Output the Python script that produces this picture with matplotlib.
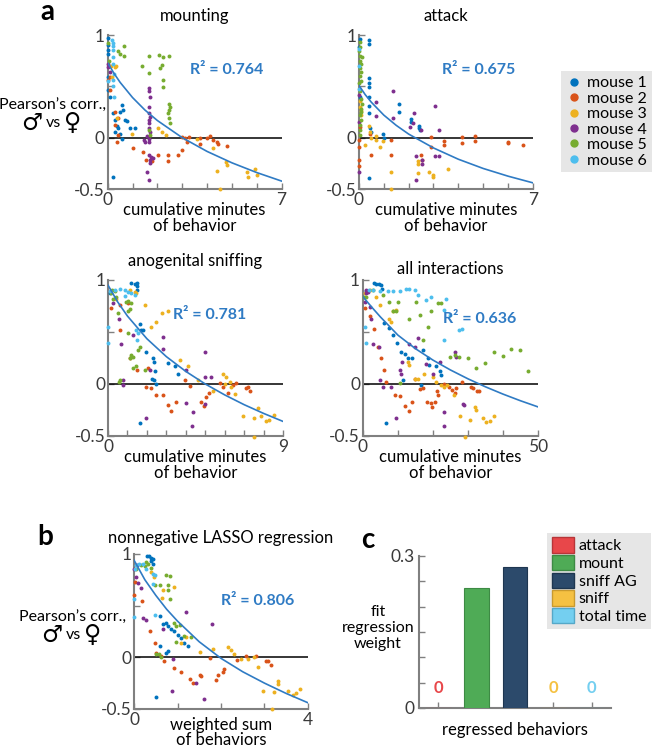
import numpy as np
import matplotlib
matplotlib.use('Agg')
import matplotlib.pyplot as plt
from matplotlib.lines import Line2D
from matplotlib.patches import Patch

plt.rcParams['font.family'] = ['Lato', 'DejaVu Sans']

mouse_colors = ['#0072BD', '#D95319', '#EDB120', '#7E2F8E', '#77AC30', '#4DBEEE']
mouse_labels = ['mouse 1', 'mouse 2', 'mouse 3', 'mouse 4', 'mouse 5', 'mouse 6']
fit_color = '#2f7bc4'
axis_gray = '#808080'
text_gray = '#3a3a3a'

# ---- mounting: (x, y) per mouse ----
mount_pts = [
    [(0, 0.97), (0, 0.9), (0, 0.85), (0, 0.82), (0.02, 0.59), (0.03, 0.46), (0.09, 0.40), (0.23, 0.24),
     (0.56, 0.32), (0.5, 0.25), (0.6, 0.27), (0.29, 0.17), (0.43, 0.09), (0.7, 0.17), (0.76, 0.16),
     (0.9, 0.09), (1.1, 0.09), (0.5, 0.04), (0.56, -0.01), (0.2, -0.38), (0.37, 0.11), (0.29, 0.06)],
    [(0.09, 0.46), (0.29, 0.25), (0.43, 0.19), (0.29, 0.12), (0.43, 0.03), (0.39, -0.04), (1.03, -0.1),
     (1.43, -0.14), (1.53, -0.22), (1.77, -0.23), (2.04, -0.17), (2.44, -0.17), (2.44, -0.23), (2.84, -0.17),
     (2.98, -0.12), (3.11, 0.0), (3.18, -0.04), (3.71, -0.06), (3.71, 0.0), (3.98, 0.0), (4.12, 0.02),
     (4.38, -0.04), (4.45, -0.06), (4.79, -0.08), (2.98, 0.01), (3.28, 0.01), (0.09, 0.59), (0.0, 0.56),
     (4.25, -0.02)],
    [(0.29, 0.69), (0.16, 0.59), (0.39, 0.19), (0.97, 0.04), (2.01, 0.09), (2.17, 0.06), (2.33, 0.03),
     (3.58, -0.01), (4.25, -0.1), (4.76, -0.24), (4.79, -0.27), (4.38, -0.32), (4.52, -0.5), (5.59, -0.33),
     (5.66, -0.38), (5.92, -0.31), (5.99, -0.36), (0.35, 0.7), (0.15, 0.7)],
    [(1.68, 0.48), (1.66, 0.45), (1.7, 0.4), (1.68, 0.3), (1.68, 0.24), (1.7, 0.2), (1.68, 0.17),
     (1.66, 0.14), (1.68, 0.09), (1.7, 0.06), (1.66, -0.01), (1.68, -0.04), (1.68, -0.17), (1.7, -0.22),
     (1.72, -0.25), (1.6, -0.33), (1.68, -0.41), (0, 0.72), (0.03, 0.69), (0.09, 0.64), (1.46, -0.02),
     (1.5, -0.04), (1.57, 0.02), (1.76, -0.19), (1.82, -0.2)],
    [(0.43, 0.84), (0.66, 0.89), (0.66, 0.8), (0.5, 0.82), (1.37, 0.7), (1.68, 0.8), (1.68, 0.63),
     (2.08, 0.81), (2.24, 0.79), (2.47, 0.8), (2.17, 0.71), (2.1, 0.68), (2.21, 0.56), (2.21, 0.49),
     (2.48, 0.33), (2.51, 0.3), (2.48, 0.27), (2.44, 0.24), (2.48, 0.19), (2.51, 0.14), (1.7, 0.03),
     (1.68, 0.07), (0.03, 0.92), (0.05, 0.75)],
    [(0.2, 0.92), (0.22, 0.89), (0.2, 0.85), (0.23, 0.79), (0.22, 0.72), (0.25, 0.62), (0.2, 0.56),
     (0.23, 0.5), (0.25, 0.4), (0.18, 0.95), (0.0, 0.55)],
]

# ---- attack ----
attack_pts = [
    [(0.05, 0.96), (0.4, 0.95), (0.4, 0.91), (0.4, 0.58), (0.4, 0.53), (0.4, 0.49), (0.4, 0.4), (0.4, 0.31),
     (0.4, 0.24), (0.43, 0.09), (0.5, 0.06), (0.97, 0.04), (0.99, 0.0), (1.61, 0.33), (1.61, 0.25),
     (2.08, 0.18), (2.08, 0.15), (2.41, 0.11), (2.41, 0.09), (2.44, 0.07), (0.4, -0.39), (0.05, 0.4),
     (0.02, 0.88)],
    [(0, -0.22), (0, -0.28), (0, -0.09), (0, -0.02), (0.46, 0.04), (0.5, -0.17), (1.27, -0.02), (1.27, -0.17),
     (2.51, -0.17), (2.55, -0.22), (2.91, 0.01), (2.91, -0.09), (3.44, -0.03), (3.44, -0.07), (4.16, 0.01),
     (4.16, -0.05), (4.69, 0.02), (4.69, -0.03), (5.99, -0.04), (5.99, -0.05), (6.6, -0.07), (0.05, 0.1)],
    [(0.05, 0.36), (0.09, 0.22), (0.4, 0.11), (0.43, 0.06), (0.23, -0.07), (0.5, 0.0), (0.67, 0.02),
     (0.67, -0.02), (0.86, -0.09), (0.97, -0.03), (1.27, -0.33), (1.27, -0.5), (2.37, -0.23), (2.37, -0.26),
     (2.37, -0.34), (2.8, -0.33), (2.98, -0.36), (2.98, -0.38), (3.58, -0.31), (0.05, 0.3), (0.08, 0.26)],
    [(1.37, 0.45), (0.67, 0.35), (0.67, 0.21), (1.37, 0.19), (2.2, 0.24), (2.17, 0.14), (2.04, 0.1),
     (2.51, 0.07), (3.08, 0.31), (3.22, 0.07), (2.31, -0.18), (2.55, -0.22), (2.55, -0.26), (2.31, -0.41),
     (3.08, -0.18), (3.22, -0.18), (0, -0.33), (0.02, 0.15), (0, 0.42)],
    [(0.03, 0.93), (0.05, 0.88), (0.02, 0.84), (0.06, 0.8), (0.04, 0.75), (0.1, 0.72), (0.03, 0.68),
     (0.08, 0.64), (0.05, 0.6), (0.02, 0.53), (0.06, 0.45), (0.1, 0.38), (0.12, 0.33), (0.08, 0.28),
     (0.05, 0.22), (0.09, 0.17), (0.04, 0.12), (0.06, 0.07), (0.03, 0.03), (0.12, 0.79), (0.1, 0.55),
     (0.1, 0.25)],
    [(0.0, 0.86), (0.01, 0.7), (0.02, 0.47)],
]

# ---- anogenital sniffing ----
anogen_pts = [
    [(1.2, 0.97), (1.37, 0.96), (1.49, 0.97), (1.49, 0.94), (1.49, 0.9), (1.63, 0.58), (1.72, 0.52),
     (1.8, 0.52), (1.97, 0.31), (2.32, 0.25), (2.35, 0.21), (2.4, 0.12), (2.28, 0.05), (2.35, 0.04),
     (2.49, 0.0), (3.09, 0.2), (3.43, 0.17), (3.6, 0.1), (1.63, -0.38), (0.09, 0.87)],
    [(0.14, 0.73), (0.6, 0.76), (0.6, 0.52), (1.11, 0.25), (1.49, 0.13), (2.06, 0.15), (1.94, -0.03),
     (2.23, -0.04), (2.49, -0.11), (2.83, -0.11), (3.09, -0.2), (3.26, -0.26), (3.52, -0.17), (3.95, 0.04),
     (4.2, -0.02), (4.8, -0.17), (4.92, -0.21), (5.06, -0.13), (5.2, -0.09), (5.75, 0.01), (5.92, -0.03),
     (6.43, -0.01), (6.6, 0.01), (7.12, -0.04), (7.2, -0.03), (7.29, -0.07), (6.17, -0.09), (1.03, 0.78)],
    [(1.11, 0.9), (1.37, 0.88), (1.46, 0.87), (1.89, 0.76), (2.8, 0.68), (3.09, 0.7), (2.49, 0.6),
     (2.23, 0.55), (3.69, 0.23), (4.12, 0.17), (4.63, 0.04), (5.92, 0.1), (6.09, 0.07), (6.26, 0.02),
     (6.35, -0.03), (6.52, -0.1), (5.4, -0.07), (7.72, -0.23), (6.95, -0.31), (7.5, -0.33), (7.89, -0.31),
     (8.15, -0.36), (8.28, -0.35), (8.52, -0.3), (7.5, -0.51), (0.43, 0.82), (6.0, 0.0)],
    [(0.57, 0.62), (0.69, 0.38), (1.29, 0.47), (2.83, 0.45), (2.83, 0.34), (2.14, 0.13), (4.03, 0.13),
     (4.97, 0.31), (4.97, 0.07), (5.32, 0.07), (4.03, -0.18), (4.37, -0.27), (4.34, -0.4), (4.97, -0.19),
     (0.77, 0.04), (0.77, -0.01), (1.94, -0.33), (0.26, 0.78)],
    [(0.17, 0.87), (0.34, 0.89), (0.26, 0.82), (0.43, 0.84), (0.94, 0.79), (1.03, 0.8), (1.2, 0.78),
     (0.51, 0.68), (1.03, 0.7), (1.11, 0.72), (1.03, 0.49), (1.63, 0.36), (1.54, 0.33), (1.29, 0.26),
     (1.2, 0.28), (1.11, 0.25), (1.29, 0.15), (1.89, 0.13), (0.6, 0.04), (0.57, 0.02), (1.46, 0.17),
     (0.2, 0.9)],
    [(0.09, 0.89), (0.34, 0.9), (0.6, 0.91), (0.86, 0.9), (1.03, 0.88), (1.2, 0.87), (1.37, 0.86),
     (0.86, 0.85), (1.46, 0.52), (1.54, 0.49), (1.49, 0.42), (0.0, 0.55), (0.0, 0.39)],
]

# ---- all interactions ----
allint_pts = [
    [(3.3, 0.97), (3.8, 0.96), (4.6, 0.96), (5.2, 0.95), (5.5, 0.91), (6, 0.59), (7.4, 0.54), (8.6, 0.47),
     (9.8, 0.39), (11, 0.31), (11.9, 0.29), (12.9, 0.25), (14.1, 0.25), (17.1, 0.33), (18.6, 0.25),
     (19, 0.18), (21, 0.17), (21.9, 0.12), (22.4, 0.09), (11.6, 0.04), (16.7, -0.01), (6.7, -0.38),
     (0.8, 0.89)],
    [(0.5, 0.73), (1.9, 0.65), (3.3, 0.53), (4.3, 0.36), (5.2, 0.25), (6, 0.13), (6.7, 0.02), (9.3, -0.11),
     (10.5, -0.12), (11.9, -0.21), (13.1, -0.26), (14.1, -0.17), (14.8, 0.05), (16.2, -0.05), (17.3, -0.04),
     (18.3, -0.17), (19.5, -0.18), (20.5, -0.17), (21.1, -0.07), (21.4, -0.11), (23.3, 0.0), (24.6, -0.03),
     (25.5, -0.06), (26.2, -0.09), (26.7, -0.04), (28.4, 0.02), (31, -0.03), (31.6, -0.04), (32.6, -0.07),
     (33.3, -0.07), (19.8, -0.22)],
    [(0.5, 0.87), (3.8, 0.84), (4.8, 0.76), (7.4, 0.62), (8.1, 0.6), (9.5, 0.71), (8.6, 0.7), (12.9, 0.21),
     (13.1, 0.18), (15, 0.05), (15.7, 0.05), (17.6, 0.1), (20, 0.07), (21, 0.02), (22.4, -0.01), (23.3, -0.03),
     (24, -0.01), (25.9, -0.11), (27.8, -0.31), (29.3, -0.51), (30.5, -0.35), (31.9, -0.22), (32.2, -0.25),
     (34.3, -0.33), (35.2, -0.37), (36.4, -0.36), (37.4, -0.31), (2.0, 0.9)],
    [(0.8, 0.9), (0.5, 0.79), (1.4, 0.88), (1.9, 0.74), (2.4, 0.62), (2.9, 0.38), (4.6, 0.36), (4.8, 0.04),
     (5.7, -0.03), (8.1, -0.03), (9.5, -0.33), (10.5, 0.13), (11, 0.1), (11.2, 0.21), (13.3, 0.38),
     (14.8, 0.36), (15.7, 0.44), (17.9, 0.19), (20, 0.1), (21.9, 0.21), (23.3, -0.27), (23.3, -0.4),
     (26.2, 0.31), (26.5, 0.26), (28.6, -0.19), (28.8, -0.2), (1.0, 0.87)],
    [(1, 0.84), (2.9, 0.9), (5.7, 0.86), (7.6, 0.79), (10, 0.79), (8.6, 0.7), (9.5, 0.7), (13.1, 0.62),
     (15.2, 0.79), (16.2, 0.66), (17.3, 0.42), (18.6, 0.55), (19.5, 0.7), (21.4, 0.78), (22.4, 0.78),
     (24.8, 0.26), (26.2, 0.28), (27.6, 0.26), (30, 0.25), (32.4, 0.15), (34.8, 0.2), (37.6, 0.31),
     (40, 0.27), (42.4, 0.34), (44.8, 0.33), (47.3, 0.12), (10.5, 0.01), (0.3, 0.84)],
    [(0.5, 0.55), (0.8, 0.39), (1.7, 0.9), (2.9, 0.9), (4.8, 0.89), (7.1, 0.89), (8.6, 0.89), (10.5, 0.89),
     (12.4, 0.91), (13.3, 0.91), (14.8, 0.9), (15.7, 0.86), (18.1, 0.81), (19.5, 0.84), (23.8, 0.82),
     (23.3, 0.71), (24.8, 0.66), (27.6, 0.52), (28.4, 0.53), (23.3, 0.42)],
]

# ---- nonnegative LASSO regression ----
lasso_pts = [
    [(0.31, 0.98), (0.34, 0.98), (0.4, 0.96), (0.44, 0.95), (0.4, 0.93), (0.44, 0.9), (0.59, 0.4),
     (0.67, 0.32), (0.74, 0.33), (0.78, 0.3), (0.86, 0.27), (0.93, 0.25), (1.09, 0.19), (1.16, 0.14),
     (1.24, 0.11), (0.78, 0.06), (0.74, 0.04), (0.51, -0.38), (0.59, 0.11), (1.0, 0.22)],
    [(0.02, 0.73), (0.19, 0.54), (0.36, 0.25), (0.48, 0.14), (0.51, 0.04), (0.63, 0.01), (0.7, -0.04),
     (0.93, -0.1), (1.09, -0.14), (1.28, -0.21), (1.36, -0.25), (1.51, -0.17), (1.55, -0.18), (1.74, -0.01),
     (1.89, -0.22), (1.93, -0.17), (2.05, -0.14), (2.08, -0.11), (2.37, -0.03), (2.58, 0.01), (2.81, 0.01),
     (3.04, -0.04), (3.08, -0.04), (3.16, -0.07), (0.0, 0.6)],
    [(0.4, 0.83), (0.45, 0.78), (0.67, 0.65), (0.93, 0.68), (0.65, 0.57), (1.09, 0.14), (1.51, 0.05),
     (1.82, 0.08), (2.16, 0.1), (2.24, 0.07), (2.31, 0.03), (2.47, -0.02), (2.62, -0.02), (2.77, 0.0),
     (2.85, -0.09), (2.97, -0.33), (3.23, -0.34), (3.31, -0.23), (3.31, -0.26), (3.54, -0.33), (3.66, -0.36),
     (3.73, -0.35), (3.81, -0.31), (3.18, -0.5), (1.2, 0.2)],
    [(0.07, 0.89), (0.05, 0.78), (0.17, 0.67), (0.21, 0.38), (0.27, 0.36), (0.67, 0.27), (0.88, -0.33),
     (1.2, 0.44), (1.43, -0.25), (1.62, -0.4), (1.8, 0.32), (0.9, -0.02), (0.1, 0.72), (0.0, 0.85)],
    [(0.05, 0.85), (0.17, 0.89), (0.28, 0.92), (0.32, 0.9), (0.4, 0.86), (0.48, 0.7), (0.59, 0.7),
     (0.74, 0.8), (0.82, 0.79), (0.78, 0.7), (0.78, 0.65), (0.82, 0.56), (0.93, 0.33), (0.97, 0.3),
     (1.05, 0.31), (1.16, 0.21), (1.32, 0.2), (0.97, 0.15), (0.51, 0.03), (0.57, 0.03), (0.61, 0.0),
     (0.25, 0.88)],
    [(0.02, 0.85), (0.05, 0.89), (0.11, 0.9), (0.21, 0.9), (0.28, 0.85), (0.44, 0.81), (0.48, 0.8),
     (0.0, 0.56), (0.0, 0.39), (0.44, 0.71), (0.48, 0.41)],
]

# ---- fitted curves ----
mount_fit_x = [0, 0.25, 0.5, 1, 1.5, 2, 3, 4, 5, 6, 7]
mount_fit_y = [0.73, 0.628, 0.539, 0.391, 0.269, 0.167, 0.0, -0.134, -0.245, -0.34, -0.423]
attack_fit_x = [0, 0.25, 0.5, 1, 1.5, 2, 3, 4, 5, 6, 7]
attack_fit_y = [0.51, 0.42, 0.345, 0.22, 0.12, 0.035, -0.1, -0.21, -0.3, -0.375, -0.44]
anogen_fit_x = [0, 0.5, 1, 2, 3, 4, 5, 6, 7, 8, 9]
anogen_fit_y = [0.95, 0.788, 0.653, 0.435, 0.263, 0.121, 0.0, -0.105, -0.199, -0.283, -0.36]
allint_fit_x = [0, 2.5, 5, 10, 15, 20, 25, 30, 35, 40, 45, 50]
allint_fit_y = [0.84, 0.74, 0.645, 0.47, 0.34, 0.23, 0.135, 0.05, -0.027, -0.097, -0.161, -0.22]
lasso_fit_x = [0, 0.25, 0.5, 0.75, 1, 1.5, 2, 2.5, 3, 3.5, 4]
lasso_fit_y = [0.94, 0.75, 0.6, 0.465, 0.35, 0.15, -0.01, -0.14, -0.25, -0.35, -0.44]

r2_values = ['0.764', '0.675', '0.781', '0.636', '0.806']

# ---- panel c ----
behaviors = ['attack', 'mount', 'sniff AG', 'sniff', 'total time']
weights = [0, 0.236, 0.279, 0, 0]
bar_colors = ['#e8474a', '#4fab56', '#2c4a6b', '#f5c142', '#74cff0']
bar_edges = ['#b83538', '#3d8a44', '#1e3650', '#c99a2e', '#55a8c8']

LAB = 12.5


def scatter_panel(ax, pts, fit_x, fit_y, xmax, minor, r2, r2_xy, title, title_pad=6):
    ax.axhline(0, color='black', lw=1.1, zorder=2)
    for i in range(6):
        xs = [p[0] for p in pts[i]]
        ys = [p[1] for p in pts[i]]
        ax.scatter(xs, ys, s=8, color=mouse_colors[i], lw=0, clip_on=False, zorder=3)
    ax.plot(fit_x, fit_y, color=fit_color, lw=1.2, zorder=4)
    ax.set_xlim(0, xmax)
    ax.set_ylim(-0.5, 1)
    for s in ['top', 'right']:
        ax.spines[s].set_visible(False)
    for s in ['left', 'bottom']:
        ax.spines[s].set_color(axis_gray)
        ax.spines[s].set_linewidth(1.5)
    ax.set_yticks([-0.5, 0, 0.5, 1])
    ax.set_yticklabels(['-0.5', '0', '', '1'])
    ax.set_xticks([0, xmax])
    ax.set_xticklabels(['0', str(xmax)])
    ax.set_xticks(minor, minor=True)
    ax.tick_params(which='both', direction='in', length=4, width=1, color=axis_gray,
                   labelsize=LAB, labelcolor=text_gray, pad=2)
    ax.text(r2_xy[0], r2_xy[1], 'R\u00b2 = ' + r2, color=fit_color, fontsize=11.5,
            fontweight='bold', ha='center', va='center')
    ax.set_title(title, fontsize=12, pad=title_pad)


fig = plt.figure(figsize=(6.55, 7.5), dpi=100)

ax1 = fig.add_axes([0.1644, 0.748, 0.2656, 0.2053])
scatter_panel(ax1, mount_pts, mount_fit_x, mount_fit_y, 7, [1, 2, 3, 4, 5, 6],
              r2_values[0], (4.8, 0.66), 'mounting', 10)
ax1.set_xlabel('cumulative minutes\nof behavior', fontsize=12, labelpad=-4, linespacing=0.95)

ax2 = fig.add_axes([0.548, 0.748, 0.2656, 0.2053])
scatter_panel(ax2, attack_pts, attack_fit_x, attack_fit_y, 7, [1, 2, 3, 4, 5, 6],
              r2_values[1], (4.83, 0.66), 'attack', 10)
ax2.set_xlabel('cumulative minutes\nof behavior', fontsize=12, labelpad=-4, linespacing=0.95)

ax3 = fig.add_axes([0.1649, 0.4187, 0.2672, 0.208])
scatter_panel(ax3, anogen_pts, anogen_fit_x, anogen_fit_y, 9, [1, 2, 3, 4, 5, 6, 7, 8],
              r2_values[2], (5.25, 0.66), 'anogenital sniffing', 10)
ax3.set_xlabel('cumulative minutes\nof behavior', fontsize=12, labelpad=-4, linespacing=0.95)

ax4 = fig.add_axes([0.554, 0.4187, 0.2672, 0.208])
scatter_panel(ax4, allint_pts, allint_fit_x, allint_fit_y, 50, [10, 20, 30, 40],
              r2_values[3], (33.4, 0.62), 'all interactions', 4)
ax4.set_xlabel('cumulative minutes\nof behavior', fontsize=12, labelpad=-4, linespacing=0.95)

ax5 = fig.add_axes([0.2046, 0.0547, 0.2656, 0.2067])
scatter_panel(ax5, lasso_pts, lasso_fit_x, lasso_fit_y, 4, [1, 2, 3],
              r2_values[4], (2.85, 0.54), 'nonnegative LASSO regression', 8)
ax5.set_xlabel('weighted sum\nof behaviors', fontsize=12, labelpad=-8, linespacing=0.95)

# y labels with sex symbols
for (cx, cy) in [(53, 106), (73, 618)]:
    fig.text(cx / 655, 1 - cy / 750, "Pearson\u2019s corr.,", fontsize=11.5, ha='center', va='center')
    fig.text((cx - 21) / 655, 1 - (cy + 17) / 750, '\u2642', fontsize=17, ha='center', va='center',
             family='DejaVu Sans')
    fig.text(cx / 655, 1 - (cy + 17) / 750, 'vs', fontsize=11.5, ha='center', va='center')
    fig.text((cx + 20) / 655, 1 - (cy + 17) / 750, '\u2640', fontsize=17, ha='center', va='center',
             family='DejaVu Sans')

# legend for mice
handles = [Line2D([], [], marker='o', ls='', color=c, markersize=5) for c in mouse_colors]
leg = fig.legend(handles, mouse_labels, loc='upper left', bbox_to_anchor=(0.857, 0.905),
                 fontsize=11.5, frameon=True, facecolor='#e6e6e6', edgecolor='none', framealpha=1,
                 fancybox=False, handletextpad=0.3, labelspacing=0.08, handlelength=1.0,
                 borderpad=0.3, borderaxespad=0)

# panel c
ax6 = fig.add_axes([0.6397, 0.056, 0.2931, 0.2027])
pos = np.arange(1, len(behaviors) + 1)
ax6.bar(pos, weights, width=0.65, color=bar_colors, edgecolor=bar_edges, lw=0.8, zorder=3)
for p, w, c in zip(pos, weights, bar_colors):
    if w == 0:
        ax6.text(p, 0.04, '0', color=c, fontsize=12, fontweight='bold', ha='center', va='center')
ax6.set_xlim(0.5, 5.5)
ax6.set_ylim(0, 0.3)
for s in ['top', 'right']:
    ax6.spines[s].set_visible(False)
for s in ['left', 'bottom']:
    ax6.spines[s].set_color(axis_gray)
    ax6.spines[s].set_linewidth(1.5)
ax6.set_yticks([0, 0.3])
ax6.set_yticklabels(['0', '0.3'])
ax6.set_yticks([0.05, 0.1, 0.15, 0.2, 0.25], minor=True)
ax6.set_xticks(pos)
ax6.set_xticklabels([])
ax6.tick_params(which='both', direction='in', length=4, width=1, color=axis_gray,
                labelsize=LAB, labelcolor=text_gray, pad=3)
ax6.set_xlabel('regressed behaviors', fontsize=12, labelpad=7)
fig.text(378 / 655, 1 - 628 / 750, 'fit\nregression\nweight', fontsize=11.5, ha='center', va='center',
         linespacing=1.15)
patches = [Patch(facecolor=c, edgecolor=e) for c, e in zip(bar_colors, bar_edges)]
fig.legend(patches, behaviors, loc='upper left', bbox_to_anchor=(0.835, 0.29), fontsize=11.5,
           frameon=True, facecolor='#e6e6e6', edgecolor='none', framealpha=1, fancybox=False,
           handletextpad=0.3, labelspacing=0.1, handlelength=1.4, handleheight=1.1,
           borderpad=0.3, borderaxespad=0)

# panel letters
fig.text(47 / 655, 1 - 12 / 750, 'a', fontsize=20, fontweight='bold', ha='center', va='center')
fig.text(45 / 655, 1 - 537 / 750, 'b', fontsize=20, fontweight='bold', ha='center', va='center')
fig.text(368 / 655, 1 - 540 / 750, 'c', fontsize=20, fontweight='bold', ha='center', va='center')

fig.savefig('out.png', dpi=100)
